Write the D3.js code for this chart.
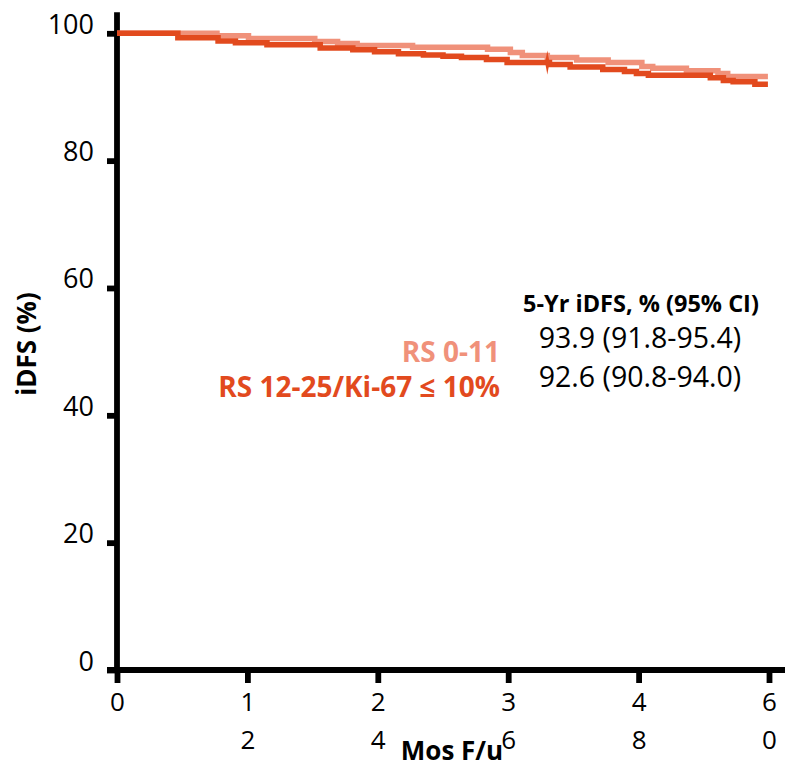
<!DOCTYPE html>
<html><head><meta charset="utf-8">
<script src="https://cdn.jsdelivr.net/npm/d3@7"></script>
<style>
html,body{margin:0;padding:0;background:#fff;}
svg{display:block;font-family:"Open Sans",sans-serif;}
</style></head>
<body>
<svg id="chart" width="785" height="769"></svg>
<script>
// ---- data ----
const xTicks = [0, 12, 24, 36, 48, 60];
const yTicks = [0, 20, 40, 60, 80, 100];
const seriesNames = ["RS 0-11", "RS 12-25/Ki-67 ≤ 10%"];
const seriesColors = ["#F0917A", "#E24A1E"];
const lightTimes = [0, 9.2, 12.1, 18.2, 20.3, 22.1, 27.2, 34.1, 36.2, 37.3, 39.6, 42.3, 45.2, 48.3, 49.3, 52.4, 55.3, 56.2];
const lightSurv  = [100, 99.6, 99.2, 98.7, 98.4, 98.1, 97.8, 97.5, 97.0, 96.5, 96.2, 95.8, 95.4, 94.8, 94.5, 94.1, 93.7, 93.2];
const darkTimes = [0, 5.6, 9.3, 10.9, 13.8, 18.7, 21.7, 23.7, 25.9, 28.2, 30.0, 31.7, 34.0, 35.9, 39.8, 41.7, 44.7, 46.7, 47.8, 48.9, 54.6, 55.8, 56.7, 58.7];
const darkSurv  = [100, 99.3, 98.8, 98.5, 98.2, 97.7, 97.4, 97.1, 96.8, 96.6, 96.4, 96.2, 95.9, 95.4, 95.1, 94.7, 94.3, 94.0, 93.7, 93.4, 93.0, 92.6, 92.4, 92.0];
const endTime = 59.9;
const darkCensorTimes = [39.6];
const tableHeader = "5-Yr iDFS, % (95% CI)";
const tableRows = ["93.9 (91.8-95.4)", "92.6 (90.8-94.0)"];
const yTitle = "iDFS (%)";
const xTitle = "Mos F/u";

// ---- scales ----
const x = d3.scaleLinear().domain([0, 60]).range([117, 769]);
const y = d3.scaleLinear().domain([0, 100]).range([670, 33.3]);
const svg = d3.select("#chart");

function stepData(times, surv) {
  const pts = times.map((t, i) => [t, surv[i]]);
  pts.push([endTime, surv[surv.length - 1]]);
  return pts;
}
const line = d3.line().x(d => x(d[0])).y(d => y(d[1])).curve(d3.curveStepAfter);

// ---- axes ----
const AXW = 5.8;
svg.append("line").attr("x1", x(0)).attr("x2", x(0))
  .attr("y1", y(103.3)).attr("y2", y(0))
  .attr("stroke", "#000").attr("stroke-width", AXW);
svg.append("line").attr("x1", x(0) - 10).attr("x2", 785)
  .attr("y1", y(0)).attr("y2", y(0))
  .attr("stroke", "#000").attr("stroke-width", AXW);

const yAxis = d3.axisLeft(y).tickValues(yTicks).tickSize(10).tickPadding(13);
const gy = svg.append("g").attr("transform", `translate(${x(0)},0)`).call(yAxis);
gy.select(".domain").remove();
gy.selectAll(".tick line").attr("stroke", "#000").attr("stroke-width", 5.8);
gy.selectAll(".tick text").attr("dy", "0em").attr("fill", "#000")
  .style("font-size", "27px").style("font-family", "'Open Sans',sans-serif");

const xAxis = d3.axisBottom(x).tickValues(xTicks).tickSize(13).tickFormat("");
const gx = svg.append("g").attr("transform", `translate(0,${y(0)})`).call(xAxis);
gx.select(".domain").remove();
gx.selectAll(".tick line").attr("stroke", "#000").attr("stroke-width", 5.8);
gx.selectAll(".tick").each(function(d) {
  const chars = String(d).split("");
  const t = d3.select(this).append("text").attr("fill", "#000")
    .attr("text-anchor", "middle")
    .style("font-size", "26px").style("font-family", "'Open Sans',sans-serif");
  chars.forEach((c, i) => {
    t.append("tspan").attr("x", 0).attr("y", 41 + i * 38).text(c);
  });
});

// ---- curves ----
const curves = [stepData(lightTimes, lightSurv), stepData(darkTimes, darkSurv)];
curves.forEach((pts, i) => {
  svg.append("path").datum(pts).attr("d", line)
    .attr("fill", "none").attr("stroke", seriesColors[i])
    .attr("stroke-width", 5.5).attr("stroke-linejoin", "miter");
});
function survAt(times, surv, t) {
  let v = surv[0];
  for (let i = 0; i < times.length; i++) if (times[i] <= t) v = surv[i];
  return v;
}
darkCensorTimes.forEach(t => {
  const cx = x(t), cy = y(survAt(darkTimes, darkSurv, t));
  svg.append("path")
    .attr("d", `M${cx},${cy - 12}L${cx + 2.2},${cy}L${cx},${cy + 12}L${cx - 2.2},${cy}Z`)
    .attr("fill", seriesColors[1]);
});

// ---- titles ----
svg.append("text").attr("transform", `translate(36,344) rotate(-90)`)
  .attr("text-anchor", "middle").attr("font-weight", "bold")
  .style("font-size", "26px").attr("fill", "#000").text(yTitle);
svg.append("text").attr("x", 452).attr("y", 760)
  .attr("text-anchor", "middle").attr("font-weight", "bold")
  .style("font-size", "26px").attr("fill", "#000").text(xTitle);

// ---- legend ----
const legendY = [362, 397];
seriesNames.forEach((n, i) => {
  svg.append("text").attr("x", 500).attr("y", legendY[i])
    .attr("text-anchor", "end").attr("font-weight", "bold")
    .style("font-size", "28px").attr("fill", seriesColors[i]).text(n);
});

// ---- table ----
svg.append("text").attr("x", 641).attr("y", 312)
  .attr("text-anchor", "middle").attr("font-weight", "bold")
  .style("font-size", "23.5px").attr("fill", "#000").text(tableHeader);
const rowY = [348, 387];
tableRows.forEach((r, i) => {
  svg.append("text").attr("x", 640).attr("y", rowY[i])
    .attr("text-anchor", "middle")
    .style("font-size", "28.5px").attr("fill", "#000").text(r);
});
</script>
</body></html>
